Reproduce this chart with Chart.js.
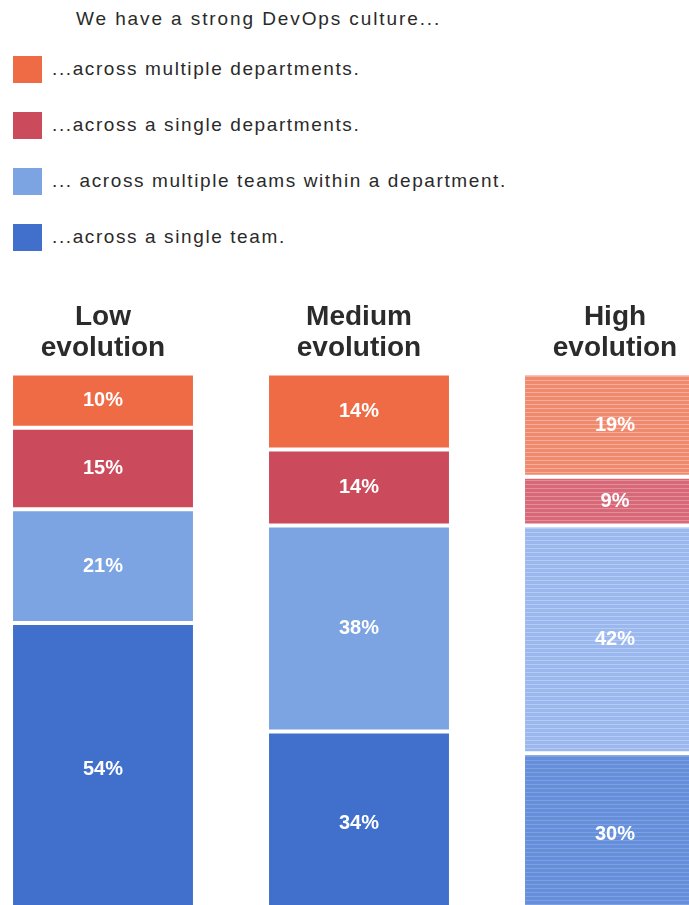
<!DOCTYPE html>
<html>
<head>
<meta charset="utf-8">
<script src="https://cdn.jsdelivr.net/npm/chart.js@4/dist/chart.umd.min.js"></script>
<style>
    html, body {
        margin: 0;
        padding: 0;
        width: 689px;
        height: 905px;
        overflow: hidden;
        background: #fff;
        font-family: "Liberation Sans", Arial, sans-serif;
        color: #2a2a2a;
    }
    #heading {
        position: absolute;
        left: 76px;
        top: 8px;
        font-size: 19px;
        letter-spacing: 1.9px;
        white-space: nowrap;
    }
    #legend {
        position: absolute;
        left: 0;
        top: 44px;
    }
    .legend-item {
        position: relative;
        height: 56px;
        width: 600px;
    }
    .legend-swatch {
        position: absolute;
        left: 13px;
        top: 12px;
        width: 29px;
        height: 27px;
    }
    .legend-text {
        position: absolute;
        left: 52px;
        top: 14px;
        font-size: 19px;
        letter-spacing: 1.6px;
        white-space: nowrap;
    }
    #chart-wrap {
        position: absolute;
        left: -25px;
        top: 280px;
        width: 768px;
        height: 625px;
    }
</style>
</head>
<body>
<div id="heading">We have a strong DevOps culture...</div>
<div id="legend"></div>
<div id="chart-wrap"><canvas id="culture-chart" width="768" height="625"></canvas></div>

<script>
// groups along the x axis
const categories = [
    ['Low', 'evolution'],
    ['Medium', 'evolution'],
    ['High', 'evolution']
];

// stack segments, top to bottom
const seriesNames = [
    '...across multiple departments.',
    '...across a single departments.',
    '... across multiple teams within a department.',
    '...across a single team.'
];

// share of respondents (%) per group
const multipleDepartments = [10, 14, 19];
const singleDepartment = [15, 14, 9];
const multipleTeams = [21, 38, 42];
const singleTeam = [54, 34, 30];

const seriesColors = ['#ee6b45', '#cb4a5b', '#7ca3e2', '#4070cb'];
// the last column is printed lighter with horizontal line banding
const bandedColors = [
    ['#f08a6f', '#f6ad9b'],
    ['#d66878', '#e38e9a'],
    ['#9bb8ee', '#b4cbf3'],
    ['#658fdb', '#7ea1e2']
];

function bandPattern(base, line) {
    const c = document.createElement('canvas');
    c.width = 6;
    c.height = 4;
    const g = c.getContext('2d');
    g.fillStyle = base;
    g.fillRect(0, 0, 6, 4);
    g.fillStyle = line;
    g.fillRect(0, 0, 6, 1);
    return g.createPattern(c, 'repeat');
}

const seriesValues = [multipleDepartments, singleDepartment, multipleTeams, singleTeam];

const datasets = seriesValues.map((values, i) => ({
    label: seriesNames[i],
    data: values,
    backgroundColor: [seriesColors[i], seriesColors[i], bandPattern(bandedColors[i][0], bandedColors[i][1])],
    borderColor: '#ffffff',
    borderWidth: { top: 2, bottom: 2, left: 0, right: 0 },
    borderSkipped: false,
    barPercentage: 0.703,
    categoryPercentage: 1
}));

// legend rows
const legendEl = document.getElementById('legend');
seriesNames.forEach((name, i) => {
    const row = document.createElement('div');
    row.className = 'legend-item';
    row.innerHTML = `<div class="legend-swatch" style="background:${seriesColors[i]}"></div>
        <div class="legend-text">${name}</div>`;
    legendEl.appendChild(row);
});

// percentage text in the middle of each segment
const segmentLabels = {
    id: 'segmentLabels',
    afterDatasetsDraw(chart) {
        const ctx = chart.ctx;
        ctx.save();
        ctx.fillStyle = '#ffffff';
        ctx.font = 'bold 20px "Liberation Sans", Arial, sans-serif';
        ctx.textAlign = 'center';
        ctx.textBaseline = 'middle';
        chart.data.datasets.forEach((ds, di) => {
            chart.getDatasetMeta(di).data.forEach((bar, i) => {
                const y = (bar.y + bar.base) / 2;
                ctx.fillText(ds.data[i] + '%', bar.x, y);
            });
        });
        ctx.restore();
    }
};

new Chart(document.getElementById('culture-chart'), {
    type: 'bar',
    data: {
        labels: categories,
        datasets: datasets
    },
    options: {
        responsive: false,
        animation: false,
        layout: { padding: { top: 12, left: 0, right: 0, bottom: 0 } },
        plugins: {
            legend: { display: false },
            tooltip: { enabled: false }
        },
        scales: {
            x: {
                position: 'top',
                stacked: true,
                grid: { display: false, drawTicks: false },
                border: { display: false },
                ticks: {
                    color: '#2b2b2b',
                    padding: 10,
                    font: { family: '"Liberation Sans", Arial, sans-serif', size: 28, weight: 'bold', lineHeight: 1.1 }
                }
            },
            y: {
                display: false,
                stacked: true,
                reverse: true,
                min: 0,
                max: 98
            }
        }
    },
    plugins: [segmentLabels]
});
</script>
</body>
</html>
